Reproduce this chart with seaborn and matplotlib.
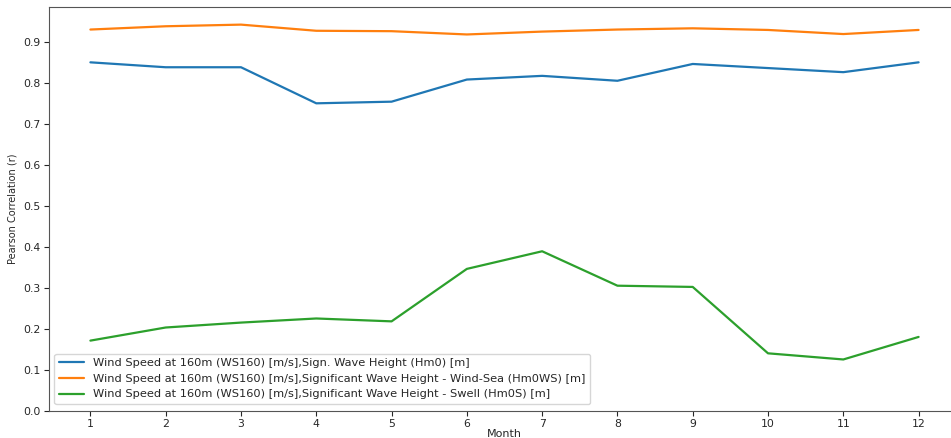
import matplotlib
matplotlib.use("Agg")
import matplotlib.pyplot as plt
import pandas as pd
import seaborn as sns

months = list(range(1, 13))

hm0 = [0.850, 0.838, 0.838, 0.750, 0.754, 0.808, 0.817, 0.805, 0.846, 0.836, 0.826, 0.850]
hm0ws = [0.930, 0.938, 0.942, 0.927, 0.926, 0.918, 0.925, 0.930, 0.933, 0.929, 0.919, 0.929]
hm0s = [0.171, 0.203, 0.215, 0.225, 0.218, 0.346, 0.389, 0.305, 0.302, 0.140, 0.125, 0.180]

labels = [
    "Wind Speed at 160m (WS160) [m/s],Sign. Wave Height (Hm0) [m]",
    "Wind Speed at 160m (WS160) [m/s],Significant Wave Height - Wind-Sea (Hm0WS) [m]",
    "Wind Speed at 160m (WS160) [m/s],Significant Wave Height - Swell (Hm0S) [m]",
]

frames = []
for lab, vals in zip(labels, [hm0, hm0ws, hm0s]):
    frames.append(pd.DataFrame({"Month": months, "r": vals, "pair": lab}))
df = pd.concat(frames, ignore_index=True)

sns.set_style("ticks")
plt.rcParams["font.family"] = ["DejaVu Sans"]

fig = plt.figure(figsize=(9.51, 4.38), dpi=100)
W, H = 951, 438
left, right, top, bottom = 49, 960, 7, 410.7
ax = fig.add_axes([left / W, 1 - bottom / H, (right - left) / W, (bottom - top) / H])

sns.lineplot(data=df, x="Month", y="r", hue="pair", hue_order=labels,
             palette=["#1f77b4", "#ff7f0e", "#2ca02c"], linewidth=1.6, ax=ax)

ax.set_xticks(months)
ax.set_xlim(0.45, 12.55)
ax.set_ylim(0, 0.985)
ax.set_yticks([i / 10 for i in range(10)])
ax.tick_params(labelsize=7.8, length=3.5, pad=2.5)
ax.set_xlabel("Month", fontsize=8, labelpad=0)
ax.set_ylabel("Pearson Correlation (r)", fontsize=7)
for s in ax.spines.values():
    s.set_color("#555555")
    s.set_visible(True)

leg = ax.legend(loc="lower left", fontsize=8.2, frameon=True,
                bbox_to_anchor=(0.002, 0.008), borderaxespad=0.3, handlelength=2.2)
leg.get_frame().set_edgecolor("#cccccc")

fig.savefig("out.png", dpi=100)
